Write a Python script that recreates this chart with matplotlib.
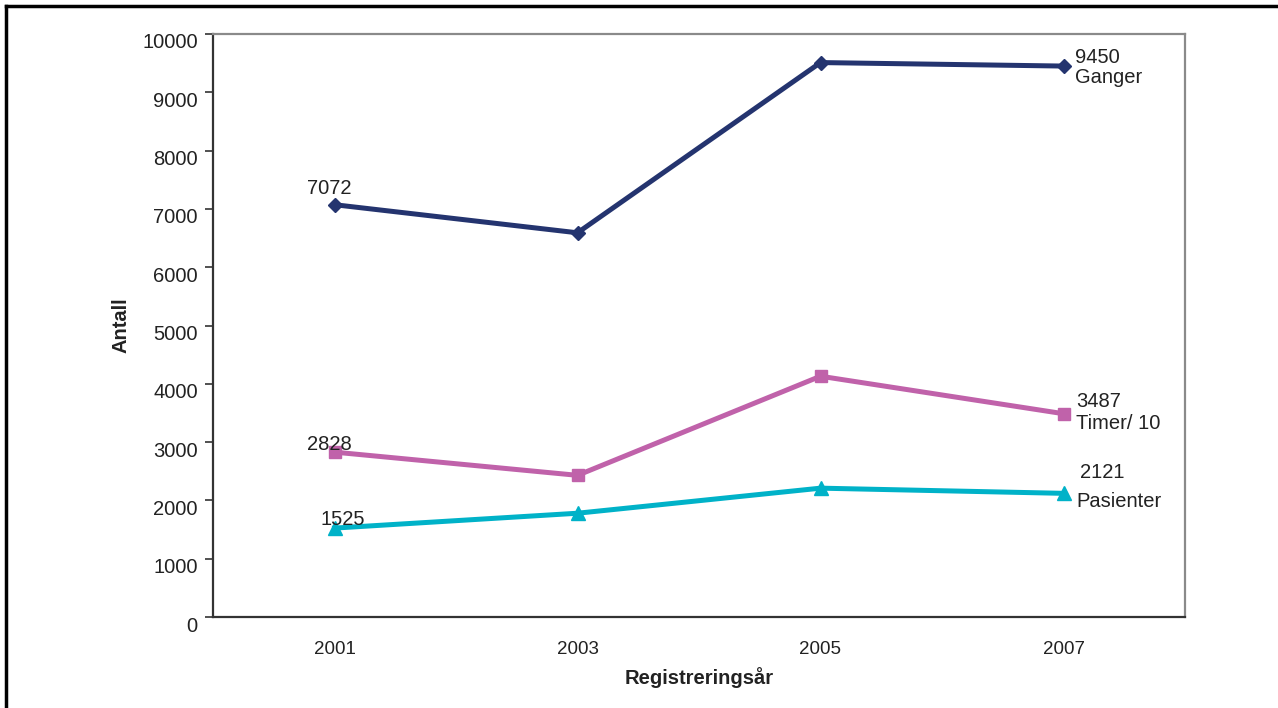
import matplotlib
matplotlib.use("Agg")
import matplotlib.pyplot as plt
import matplotlib.transforms as mtransforms
from matplotlib.lines import Line2D

plt.rcParams['font.family'] = ['Liberation Sans', 'DejaVu Sans']

years = ["2001", "2003", "2005", "2007"]
ganger = [7072, 6590, 9510, 9450]
timer10 = [2828, 2430, 4130, 3487]
pasienter = [1525, 1780, 2210, 2121]
y_ticks = [0, 1000, 2000, 3000, 4000, 5000, 6000, 7000, 8000, 9000, 10000]

c_ganger = "#24346F"
c_timer = "#C062AA"
c_pas = "#00B2C8"
txt = "#222222"
fs = 14.5

fig = plt.figure(figsize=(12.78, 7.08), dpi=100)
ax = fig.add_axes([213 / 1278, 1 - 617 / 708, (1185 - 213) / 1278, (617 - 34) / 708])

x = list(range(len(years)))
ax.plot(x, ganger, color=c_ganger, lw=3.6, marker="D", ms=7.5, solid_joinstyle="round")
ax.plot(x, timer10, color=c_timer, lw=3.6, marker="s", ms=8.5)
ax.plot(x, pasienter, color=c_pas, lw=3.6, marker="^", ms=9.5)

ax.set_xlim(-0.5, 3.5)
ax.set_ylim(0, 10000)
ax.set_yticks(y_ticks)
ax.set_yticklabels([str(v) for v in y_ticks], fontsize=fs, color=txt)
ax.set_xticks(x)
ax.set_xticklabels(years, fontsize=13.5, color=txt)
ax.tick_params(axis="x", length=0, pad=17)
ax.tick_params(axis="y", direction="out", length=6, width=1.2, pad=5, color="#333333")

# nudge y tick labels a little below their ticks
off = mtransforms.ScaledTranslation(0, -7 / 100, fig.dpi_scale_trans)
for lbl in ax.get_yticklabels():
    lbl.set_transform(lbl.get_transform() + off)

for side in ["left", "bottom"]:
    ax.spines[side].set_color("#333333")
    ax.spines[side].set_linewidth(1.6)
for side in ["top", "right"]:
    ax.spines[side].set_color("#8a8a8a")
    ax.spines[side].set_linewidth(1.6)

ax.set_ylabel("Antall", fontsize=fs, fontweight="bold", labelpad=8, color=txt)
ax.set_xlabel("Registreringsår", fontsize=fs, fontweight="bold", labelpad=7, color=txt)

# value labels at the first point
ax.annotate(str(ganger[0]), (0, ganger[0]), xytext=(-4, 5), textcoords="offset points",
            ha="center", va="bottom", fontsize=fs, color=txt)
ax.annotate(str(timer10[0]), (0, timer10[0]), xytext=(-4, -1), textcoords="offset points",
            ha="center", va="bottom", fontsize=fs, color=txt)
ax.annotate(str(pasienter[0]), (0, pasienter[0]), xytext=(6, -1), textcoords="offset points",
            ha="center", va="bottom", fontsize=fs, color=txt)

# value and series labels at the last point
end = [
    (ganger[-1], "Ganger", (8, 6), (8, -8)),
    (timer10[-1], "Timer/ 10", (9, 9), (9, -7)),
    (pasienter[-1], "Pasienter", (12, 15), (9, -6)),
]
for val, name, o1, o2 in end:
    ax.annotate(str(val), (3, val), xytext=o1, textcoords="offset points",
                ha="left", va="center", fontsize=fs, color=txt)
    ax.annotate(name, (3, val), xytext=o2, textcoords="offset points",
                ha="left", va="center", fontsize=fs, color=txt)

# outer frame lines
fig.add_artist(Line2D([6 / 1278, 1.0], [1 - 6 / 708, 1 - 6 / 708], transform=fig.transFigure,
                      color="black", lw=2.5))
fig.add_artist(Line2D([6 / 1278, 6 / 1278], [0, 1 - 6 / 708], transform=fig.transFigure,
                      color="black", lw=2.5))

fig.savefig("out.png", dpi=100)
